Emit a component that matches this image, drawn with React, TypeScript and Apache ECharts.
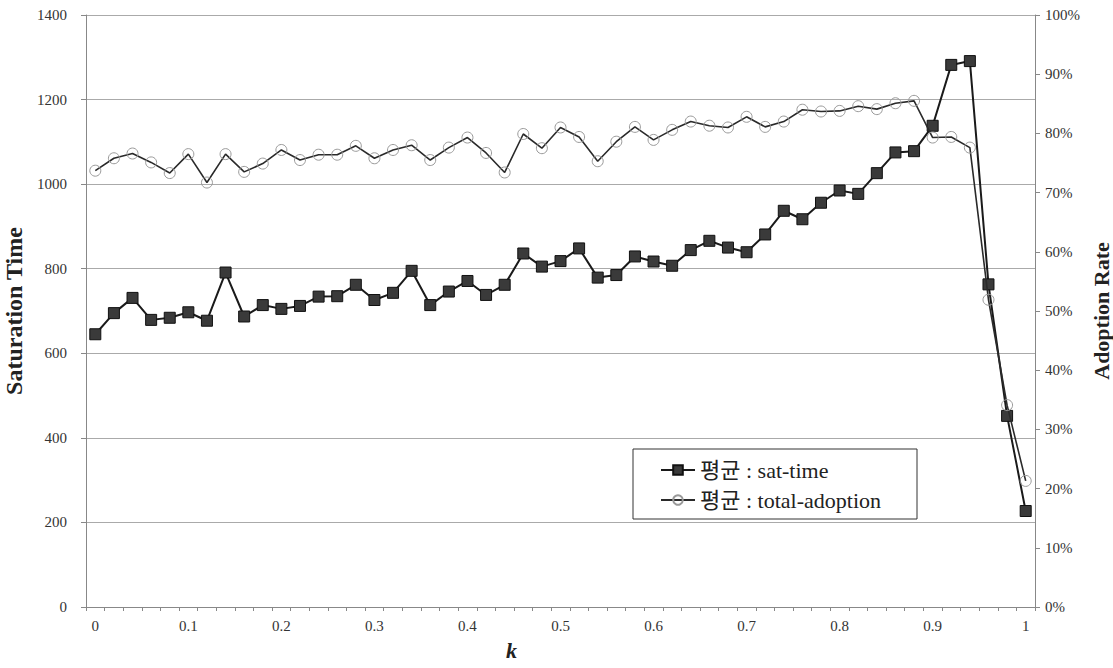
import React, { useEffect, useRef } from "react";
import * as echarts from "echarts";

const kValues = [
  "0", "0.02", "0.04", "0.06", "0.08", "0.1", "0.12", "0.14", "0.16", "0.18",
  "0.2", "0.22", "0.24", "0.26", "0.28", "0.3", "0.32", "0.34", "0.36", "0.38",
  "0.4", "0.42", "0.44", "0.46", "0.48", "0.5", "0.52", "0.54", "0.56", "0.58",
  "0.6", "0.62", "0.64", "0.66", "0.68", "0.7", "0.72", "0.74", "0.76", "0.78",
  "0.8", "0.82", "0.84", "0.86", "0.88", "0.9", "0.92", "0.94", "0.96", "0.98", "1",
];

const satTime = [
  645, 695, 731, 679, 684, 697, 677, 791, 687, 714,
  705, 712, 734, 735, 762, 726, 743, 795, 714, 746,
  771, 738, 762, 836, 805, 818, 848, 779, 785, 829,
  817, 807, 844, 866, 850, 839, 881, 937, 917, 956,
  985, 977, 1026, 1075, 1078, 1138, 1282, 1291, 763, 452, 227,
];

const totalAdoption = [
  73.7, 75.8, 76.6, 75.1, 73.3, 76.5, 71.7, 76.5, 73.5, 74.9,
  77.2, 75.5, 76.4, 76.4, 77.9, 75.8, 77.2, 78.0, 75.5, 77.6,
  79.3, 76.7, 73.4, 79.9, 77.5, 81.0, 79.4, 75.3, 78.6, 81.1,
  78.9, 80.6, 82.0, 81.3, 81.0, 82.8, 81.1, 82.0, 84.0, 83.7,
  83.8, 84.6, 84.1, 85.1, 85.5, 79.3, 79.4, 77.6, 51.9, 34.1, 21.3,
];

const seriesNames = ["평균 : sat-time", "평균 : total-adoption"];

const SERIF = "Liberation Serif, Noto Sans CJK KR, serif";

export default function App() {
  const ref = useRef<HTMLDivElement>(null);

  useEffect(() => {
    if (!ref.current) return;
    const chart = echarts.init(ref.current, undefined, { renderer: "svg" });
    chart.setOption({
      animation: false,
      backgroundColor: "#ffffff",
      grid: {
        left: 86,
        right: 78,
        top: 15,
        bottom: 61,
        containLabel: false,
        outerBoundsMode: "none",
      },
      legend: {
        orient: "vertical",
        left: 633,
        top: 449,
        data: seriesNames,
        borderColor: "#333",
        borderWidth: 1,
        borderRadius: 0,
        padding: [10, 36, 8, 27],
        itemWidth: 34,
        itemHeight: 12,
        itemGap: 8,
        textStyle: { fontFamily: SERIF, fontSize: 22, color: "#222" },
      },
      xAxis: {
        type: "category",
        data: kValues,
        boundaryGap: true,
        axisLine: { show: true, lineStyle: { color: "#888", width: 1 } },
        axisTick: { show: true, interval: 0, length: 4, inside: false, lineStyle: { color: "#888" } },
        axisLabel: {
          interval: 4,
          fontFamily: SERIF,
          fontSize: 15,
          color: "#333",
          margin: 11,
        },
        splitLine: { show: false },
      },
      yAxis: [
        {
          type: "value",
          min: 0,
          max: 1400,
          interval: 200,
          name: "Saturation Time",
          nameLocation: "middle",
          nameGap: 40,
          nameTextStyle: { fontFamily: SERIF, fontSize: 24, fontWeight: "bold", color: "#222" },
          axisLine: { show: true, lineStyle: { color: "#888" } },
          axisTick: { show: true, length: 5, lineStyle: { color: "#888" } },
          axisLabel: {
            fontFamily: SERIF,
            fontSize: 15,
            color: "#333",
            margin: 19,
            formatter: (v: number) => `${v}`,
          },
          splitLine: { show: true, lineStyle: { color: "#aaa", width: 1 } },
        },
        {
          type: "value",
          min: 0,
          max: 100,
          interval: 10,
          position: "right",
          name: "Adoption Rate",
          nameLocation: "middle",
          nameGap: 48,
          nameRotate: 90,
          nameTextStyle: { fontFamily: SERIF, fontSize: 22, fontWeight: "bold", color: "#222" },
          axisLine: { show: true, lineStyle: { color: "#888" } },
          axisTick: { show: true, length: 5, lineStyle: { color: "#888" } },
          axisLabel: {
            fontFamily: SERIF,
            fontSize: 15,
            color: "#333",
            margin: 10,
            formatter: (v: number) => `${v}%`,
          },
          splitLine: { show: false },
        },
      ],
      series: [
        {
          name: seriesNames[0],
          type: "line",
          yAxisIndex: 0,
          data: satTime,
          symbol: "rect",
          symbolSize: 11,
          lineStyle: { color: "#1a1a1a", width: 2 },
          itemStyle: { color: "#3a3a3a", borderColor: "#111", borderWidth: 1 },
          z: 3,
        },
        {
          name: seriesNames[1],
          type: "line",
          yAxisIndex: 1,
          data: totalAdoption,
          symbol: "circle",
          symbolSize: 11,
          lineStyle: { color: "#2a2a2a", width: 1.6 },
          itemStyle: { color: "rgba(255,255,255,0)", borderColor: "#999", borderWidth: 1 },
          z: 4,
        },
      ],
      graphic: [
        {
          type: "text",
          left: 506,
          top: 639,
          style: {
            text: "k",
            font: `italic bold 22px ${SERIF}`,
            fill: "#222",
          },
        },
      ],
    });
    return () => chart.dispose();
  }, []);

  return <div ref={ref} style={{ width: 1113, height: 668, position: "absolute", left: 0, top: 0 }} />;
}
